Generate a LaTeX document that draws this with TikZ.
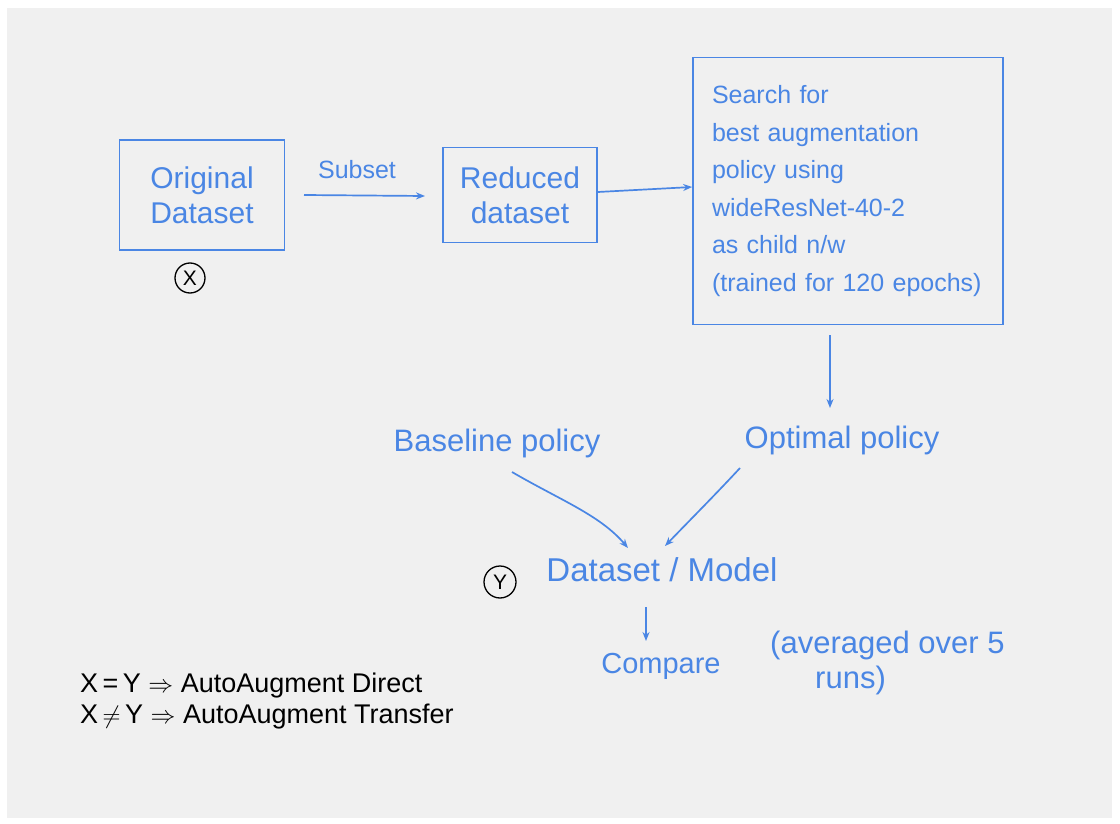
\documentclass[tikz,border=0pt]{standalone}
\usepackage{fontspec}
\setmainfont{Liberation Sans}
\usetikzlibrary{arrows.meta}
\definecolor{ink}{RGB}{74,134,228}
\definecolor{paper}{RGB}{240,240,240}
\tikzset{
  pen/.style={draw=ink, line width=1.7pt},
  flow/.style={pen, -{Stealth[length=9pt,width=7pt]}},
  stagebox/.style={pen, text=ink, font=\fontsize{30}{35}\selectfont, align=center},
  note/.style={text=ink, font=\fontsize{31}{36}\selectfont, inner sep=0pt},
  tag/.style={draw=black, line width=1.3pt, circle, inner sep=0pt, minimum size=30pt,
              font=\fontsize{21}{21}\selectfont},
  legend/.style={text=black, font=\fontsize{27}{27}\selectfont, inner sep=0pt, anchor=west},
}
\begin{document}
\begin{tikzpicture}[x=1pt,y=-1pt]
  \useasboundingbox (0,0) rectangle (1120,824);
  \fill[paper] (7,8) rectangle (1112,818);

  % stage boxes
  \node[stagebox, minimum width=165pt, minimum height=110pt, inner sep=0pt] (orig) at (202,195)
    {Original\\Dataset};
  \node[stagebox, minimum width=154pt, minimum height=95pt, inner sep=0pt] (red) at (520,195)
    {Reduced\\dataset};
  \node[stagebox, minimum width=310pt, minimum height=267pt, text width=272pt,
        inner xsep=19pt, inner ysep=0pt, align=left,
        font=\fontsize{25}{37.5}\selectfont] (search) at (848,191)
    {Search for\\best augmentation\\policy using\\wideResNet-40-2\\as child n/w\\(trained for 120 epochs)};

  % dataset tags
  \node[tag] (xtag) at (190,278) {X};

  % top row flow
  \coordinate (subsetstart) at (304,195);
  \coordinate (redin) at (425,196);
  \draw[flow] (subsetstart) -- (redin);
  \node[note, font=\fontsize{25}{25}\selectfont] (subsetlbl) at (357,170) {Subset};
  \draw[flow] (red.east |- 0,192) -- (search.west |- 0,187);

  % policies
  \node[note] (optimal) at (842,440) {Optimal policy};
  \node[note] (baseline) at (497,443) {Baseline policy};
  \coordinate (searchout) at (830,335);
  \coordinate (optin) at (830,408);
  \draw[flow] (searchout) -- (optin);

  \node[note, font=\fontsize{33}{33}\selectfont] (target) at (662,570) {Dataset / Model};
  \node[tag, minimum size=32pt] (ytag) at (500,582) {Y};

  \coordinate (bstart) at (512,472);
  \coordinate (bend) at (628,548);
  \coordinate (ostart) at (740,468);
  \coordinate (oend) at (665,546);
  \draw[flow] (bstart) .. controls (560,500) and (600,515) .. (bend);
  \draw[flow] (ostart) .. controls (715,495) and (690,520) .. (oend);

  % comparison
  \node[note, font=\fontsize{29}{29}\selectfont] (compare) at (661,666) {Compare};
  \coordinate (cmpstart) at (646,607);
  \coordinate (cmpend) at (646,641);
  \draw[flow] (cmpstart) -- (cmpend);
  \node[note, anchor=west] (avg) at (770,645) {(averaged over 5};
  \node[note, anchor=west] (runs) at (815,680) {runs)};

  % legend
  \node[legend] (direct) at (80,686) {X\,=\,Y $\Rightarrow$ AutoAugment Direct};
  \node[legend] (transfer) at (80,717) {X\,$\neq$\,Y $\Rightarrow$ AutoAugment Transfer};
\end{tikzpicture}
\end{document}
